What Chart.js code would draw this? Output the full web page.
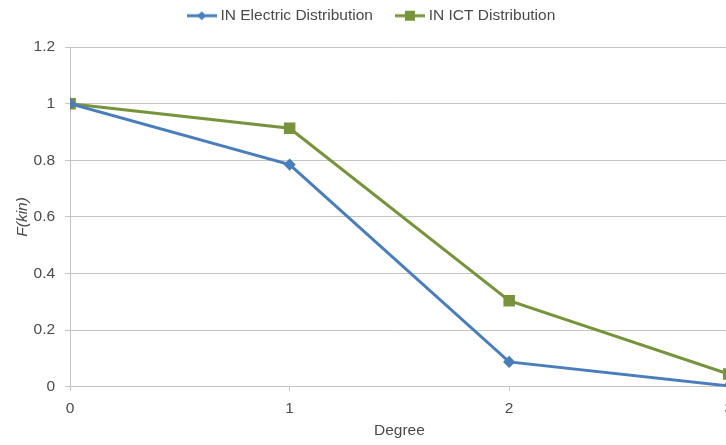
<!DOCTYPE html>
<html lang="en">
  <head>
    <meta charset="UTF-8" />
    <title>Degree distribution</title>
    <script src="https://cdn.jsdelivr.net/npm/chart.js@4/dist/chart.umd.min.js"></script>
    <style>
      html, body { margin: 0; padding: 0; overflow: hidden; background: #fff; }
    </style>
  </head>
  <body>
    <canvas id="chart" width="742" height="445"></canvas>
    <script>
      var degrees = [0, 1, 2, 3];
      var electric = [1, 0.785, 0.088, 0.003];
      var ict = [1, 0.913, 0.304, 0.045];
      var seriesNames = ['IN Electric Distribution', 'IN ICT Distribution'];

      var blue = '#4a7ebb';
      var green = '#77933c';
      var textColor = '#4a4a4a';
      var gridColor = '#c4c4c4';

      // small canvas icons: line with marker in the middle, used as legend symbol
      function legendIcon(color, shape) {
        var c = document.createElement('canvas');
        c.width = 30;
        c.height = 12;
        var g = c.getContext('2d');
        g.strokeStyle = color;
        g.lineWidth = 3;
        g.beginPath();
        g.moveTo(0, 6);
        g.lineTo(30, 6);
        g.stroke();
        g.fillStyle = color;
        if (shape === 'diamond') {
          g.beginPath();
          g.moveTo(15, 1.5);
          g.lineTo(19.5, 6);
          g.lineTo(15, 10.5);
          g.lineTo(10.5, 6);
          g.closePath();
          g.fill();
        } else {
          g.fillRect(10, 1, 10, 10);
        }
        return c;
      }

      var font = { family: '"Helvetica Neue", "Liberation Sans", Arial, sans-serif', size: 15.5 };

      // legend: wide gap between items but keep it short and close to the top
      var legendTweak = {
        id: 'legendTweak',
        beforeInit(chart) {
          var fit = chart.legend.fit;
          chart.legend.fit = function () {
            fit.bind(chart.legend)();
            this.height = 47;
          };
        },
        afterLayout(chart) {
          chart.legend.top -= 18;
          chart.legend.left += 6;
          chart.legend.right += 6;
        }
      };

      new Chart(document.getElementById('chart'), {
        type: 'line',
        data: {
          datasets: [
            {
              label: seriesNames[0],
              data: degrees.map((d, i) => ({ x: d, y: electric[i] })),
              borderColor: blue,
              backgroundColor: blue,
              borderWidth: 3,
              pointStyle: 'rectRot',
              pointRadius: 4,
              pointLegend: legendIcon(blue, 'diamond')
            },
            {
              label: seriesNames[1],
              data: degrees.map((d, i) => ({ x: d, y: ict[i] })),
              borderColor: green,
              backgroundColor: green,
              borderWidth: 3,
              pointStyle: 'rect',
              pointRadius: 6,
              pointLegend: legendIcon(green, 'square')
            }
          ]
        },
        plugins: [legendTweak],
        options: {
          responsive: false,
          animation: false,
          layout: { padding: { top: 0, right: 8, left: 0, bottom: 0 } },
          plugins: {
            tooltip: { enabled: false },
            legend: {
              position: 'top',
              labels: {
                color: textColor,
                font: font,
                usePointStyle: true,
                pointStyleWidth: 22,
                boxHeight: 12,
                padding: 26,
                generateLabels: (chart) =>
                  chart.data.datasets.map((ds, i) => ({
                    text: ds.label,
                    pointStyle: ds.pointLegend,
                    fontColor: textColor,
                    datasetIndex: i,
                    lineWidth: 0
                  }))
              }
            }
          },
          scales: {
            x: {
              type: 'linear',
              min: 0,
              max: 3,
              ticks: { stepSize: 1, color: textColor, font: font, padding: 9 },
              grid: { drawOnChartArea: false, color: gridColor, tickLength: 4, tickColor: gridColor },
              border: { color: gridColor, width: 1 },
              title: { display: true, text: 'Degree', color: textColor, font: font, padding: { top: -6, bottom: 5 } }
            },
            y: {
              min: 0,
              max: 1.2,
              ticks: {
                stepSize: 0.2,
                color: textColor,
                font: font,
                padding: 10,
                callback: (v) => String(Math.round(v * 10) / 10)
              },
              grid: { color: gridColor, lineWidth: 1, tickLength: 5, tickColor: gridColor },
              border: { color: gridColor, width: 1 },
              title: { display: true, text: 'F(kin)', color: textColor, font: Object.assign({}, font, { style: 'italic' }), padding: { top: 13, bottom: -8 } }
            }
          }
        }
      });
    </script>
  </body>
</html>
